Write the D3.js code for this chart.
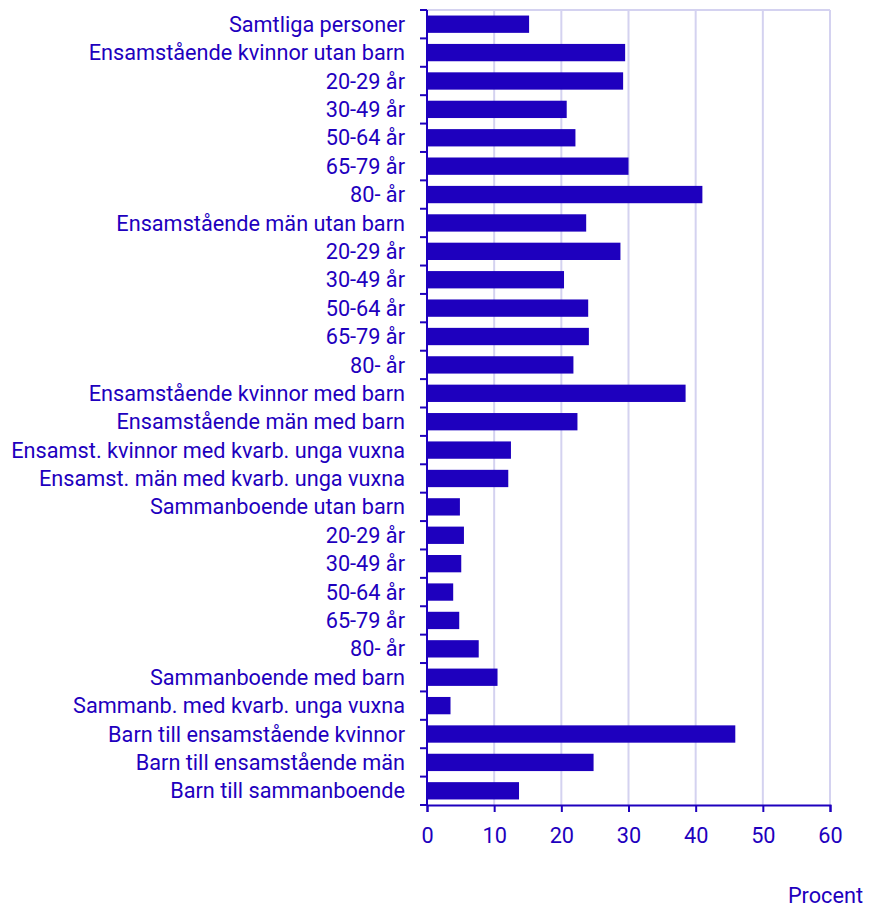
<!DOCTYPE html>
<html>
<head>
<meta charset="utf-8">
<script src="https://cdn.jsdelivr.net/npm/d3@7"></script>
<style>
  body { margin: 0; background: #fff; }
  text { font-family: Roboto, sans-serif; fill: #1e00be; }
</style>
</head>
<body>
<svg id="chart"></svg>
<script>
const categories = [
  "Samtliga personer",
  "Ensamstående kvinnor utan barn",
  "20-29 år",
  "30-49 år",
  "50-64 år",
  "65-79 år",
  "80- år",
  "Ensamstående män utan barn",
  "20-29 år ",
  "30-49 år ",
  "50-64 år ",
  "65-79 år ",
  "80- år ",
  "Ensamstående kvinnor med barn",
  "Ensamstående män med barn",
  "Ensamst. kvinnor med kvarb. unga vuxna",
  "Ensamst. män med kvarb. unga vuxna",
  "Sammanboende utan barn",
  "20-29 år  ",
  "30-49 år  ",
  "50-64 år  ",
  "65-79 år  ",
  "80- år  ",
  "Sammanboende med barn",
  "Sammanb. med kvarb. unga vuxna",
  "Barn till ensamstående kvinnor",
  "Barn till ensamstående män",
  "Barn till sammanboende"
];

const values = [
  15.2, 29.5, 29.2, 20.8, 22.1, 30.0, 41.0,
  23.7, 28.8, 20.4, 24.0, 24.1, 21.8,
  38.5, 22.4, 12.5, 12.1,
  4.9, 5.5, 5.1, 3.9, 4.8, 7.7,
  10.5, 3.5, 45.9, 24.8, 13.7
];

const xTicks = [0, 10, 20, 30, 40, 50, 60];
const xLabel = "Procent";

const width = 879;
const height = 907;
const margin = {top: 10, right: 49, bottom: 102, left: 427};
const blue = "#1e00be";
const grid = "#d4d2f0";
const fontSize = "21.7px";

const data = categories.map((c, i) => ({cat: c, value: values[i]}));

const svg = d3.select("#chart")
    .attr("width", width)
    .attr("height", height);

const x = d3.scaleLinear()
    .domain([0, 60])
    .range([margin.left, width - margin.right]);

const y = d3.scaleBand()
    .domain(categories)
    .range([margin.top, height - margin.bottom])
    .paddingInner(0.39)
    .paddingOuter(0.195);

// grid
svg.append("g")
  .selectAll("line")
  .data(xTicks.filter(d => d > 0))
  .join("line")
    .attr("x1", d => x(d))
    .attr("x2", d => x(d))
    .attr("y1", margin.top)
    .attr("y2", height - margin.bottom)
    .attr("stroke", grid)
    .attr("stroke-width", 2);

svg.append("line")
    .attr("x1", x(0))
    .attr("x2", x(60))
    .attr("y1", margin.top)
    .attr("y2", margin.top)
    .attr("stroke", grid)
    .attr("stroke-width", 2);

// bars
svg.append("g")
  .selectAll("rect")
  .data(data)
  .join("rect")
    .attr("x", x(0))
    .attr("y", d => y(d.cat))
    .attr("width", d => x(d.value) - x(0))
    .attr("height", y.bandwidth())
    .attr("fill", blue);

// y axis: ticks at band edges
const yAxis = svg.append("g")
    .attr("transform", `translate(${x(0)},0)`);

const edges = categories.map(c => y(c) - y.step() * y.paddingInner() / 2)
    .concat([height - margin.bottom]);

yAxis.append("line")
    .attr("x1", 0).attr("x2", 0)
    .attr("y1", margin.top).attr("y2", height - margin.bottom)
    .attr("stroke", blue)
    .attr("stroke-width", 2);

yAxis.selectAll(".tk")
  .data(edges)
  .join("line")
    .attr("class", "tk")
    .attr("x1", -7).attr("x2", 0)
    .attr("y1", d => d).attr("y2", d => d)
    .attr("stroke", blue)
    .attr("stroke-width", 2);

yAxis.selectAll(".lbl")
  .data(categories)
  .join("text")
    .attr("class", "lbl")
    .attr("x", -22)
    .attr("y", d => y(d) + y.bandwidth() / 2)
    .attr("dy", "0.35em")
    .attr("text-anchor", "end")
    .style("font-size", fontSize)
    .text(d => d.trim());

// x axis
svg.append("g")
    .attr("transform", `translate(0,${height - margin.bottom})`)
    .call(d3.axisBottom(x).tickValues(xTicks).tickSize(7).tickPadding(16))
    .call(g => g.select(".domain").attr("stroke", blue).attr("stroke-width", 2))
    .call(g => g.selectAll(".tick line").attr("stroke", blue).attr("stroke-width", 2))
    .call(g => g.selectAll(".tick text")
        .attr("fill", blue)
        .style("font-family", "Roboto, sans-serif")
        .style("font-size", fontSize));

svg.append("text")
    .attr("x", 863)
    .attr("y", 903)
    .attr("text-anchor", "end")
    .style("font-size", fontSize)
    .text(xLabel);
</script>
</body>
</html>
